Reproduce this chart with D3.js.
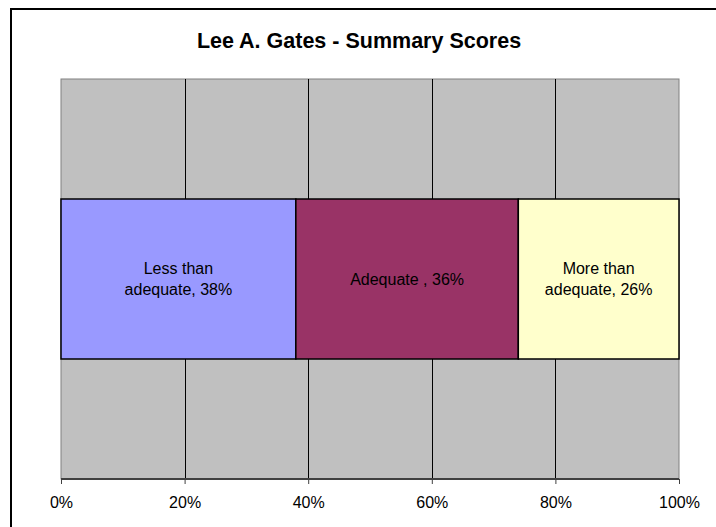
<!DOCTYPE html>
<html>
<head>
<meta charset="utf-8">
<script src="https://cdn.jsdelivr.net/npm/d3@7"></script>
<style>
  body { margin: 0; background: #fff; }
  text { font-family: "Liberation Sans", Arial, sans-serif; }
</style>
</head>
<body>
<div id="chart"></div>
<script>
var w = 716;
var h = 527;

// data
var categories = ["Less than adequate", "Adequate ", "More than adequate"];
var values = [0.38, 0.36, 0.26];
var colors = ["#9999ff", "#993366", "#ffffcc"];
var ticks = [0, 0.2, 0.4, 0.6, 0.8, 1.0];

var margin = {left: 61, right: 716 - 679, top: 79, bottom: 527 - 479};

var svg = d3.select("#chart")
    .append("svg")
    .attr("width", w)
    .attr("height", h);

// outer chart border (runs off the right and bottom of the window)
svg.append("rect")
    .attr("x", 11)
    .attr("y", 9)
    .attr("width", 740)
    .attr("height", 560)
    .attr("fill", "#fff")
    .attr("stroke", "#000")
    .attr("stroke-width", 2);

svg.append("text")
    .attr("x", 359)
    .attr("y", 48)
    .attr("text-anchor", "middle")
    .style("font-size", "21.5px")
    .style("font-weight", "bold")
    .text("Lee A. Gates - Summary Scores");

var x = d3.scaleLinear()
    .domain([0, 1])
    .range([margin.left, w - margin.right]);

var y = d3.scaleBand()
    .domain(["row"])
    .range([margin.top, h - margin.bottom])
    .paddingInner(0)
    .paddingOuter(0.75);

// plot area
svg.append("rect")
    .attr("x", x(0))
    .attr("y", margin.top)
    .attr("width", x(1) - x(0))
    .attr("height", h - margin.bottom - margin.top)
    .attr("fill", "#c0c0c0")
    .attr("stroke", "#808080")
    .attr("stroke-width", 1);

// gridlines
svg.selectAll(".grid")
    .data(ticks.slice(1, -1))
    .enter()
    .append("line")
    .attr("class", "grid")
    .attr("x1", function(d) { return Math.round(x(d)) + 0.5; })
    .attr("x2", function(d) { return Math.round(x(d)) + 0.5; })
    .attr("y1", margin.top)
    .attr("y2", h - margin.bottom)
    .attr("stroke", "#000")
    .attr("stroke-width", 1);

// stacked segments
var stack = [];
var acc = 0;
for (var i = 0; i < values.length; i++) {
    stack.push({name: categories[i], value: values[i], x0: acc, x1: acc + values[i], color: colors[i]});
    acc += values[i];
}

svg.selectAll(".seg")
    .data(stack)
    .enter()
    .append("rect")
    .attr("class", "seg")
    .attr("x", function(d) { return x(d.x0); })
    .attr("y", y("row"))
    .attr("width", function(d) { return x(d.x1) - x(d.x0); })
    .attr("height", y.bandwidth())
    .attr("fill", function(d) { return d.color; })
    .attr("stroke", "#000")
    .attr("stroke-width", 1.5);

// labels
var labels = svg.selectAll(".lbl")
    .data(stack)
    .enter()
    .append("text")
    .attr("class", "lbl")
    .attr("text-anchor", "middle")
    .style("font-size", "16px")
    .attr("fill", "#000");

labels.each(function(d) {
    var t = d3.select(this);
    var cx = (x(d.x0) + x(d.x1)) / 2;
    var cy = y("row") + y.bandwidth() / 2;
    var pct = Math.round(d.value * 100) + "%";
    var words = d.name.trim().split(" ");
    var lines;
    if (words.length > 2) {
        lines = [words.slice(0, -1).join(" "), words[words.length - 1] + ", " + pct];
    } else {
        lines = [d.name + ", " + pct];
    }
    var lh = 21.5;
    lines.forEach(function(l, k) {
        t.append("tspan")
            .attr("x", cx)
            .attr("y", cy + (k - (lines.length - 1) / 2) * lh + 5.5)
            .text(l);
    });
});

// axis
var axis = d3.axisBottom(x)
    .tickValues(ticks)
    .tickFormat(d3.format(".0%"))
    .tickSize(5)
    .tickPadding(13);

var gx = svg.append("g")
    .attr("transform", "translate(0," + (h - margin.bottom) + ")")
    .call(axis);

gx.select(".domain")
    .attr("stroke", "#404040")
    .attr("stroke-width", 2)
    .attr("d", "M" + x(0) + ",0H" + x(1));
gx.selectAll(".tick line").attr("stroke", "#404040");
gx.selectAll(".tick text")
    .style("font-size", "16px")
    .style("font-family", "Liberation Sans, Arial, sans-serif")
    .attr("fill", "#000");
</script>
</body>
</html>
